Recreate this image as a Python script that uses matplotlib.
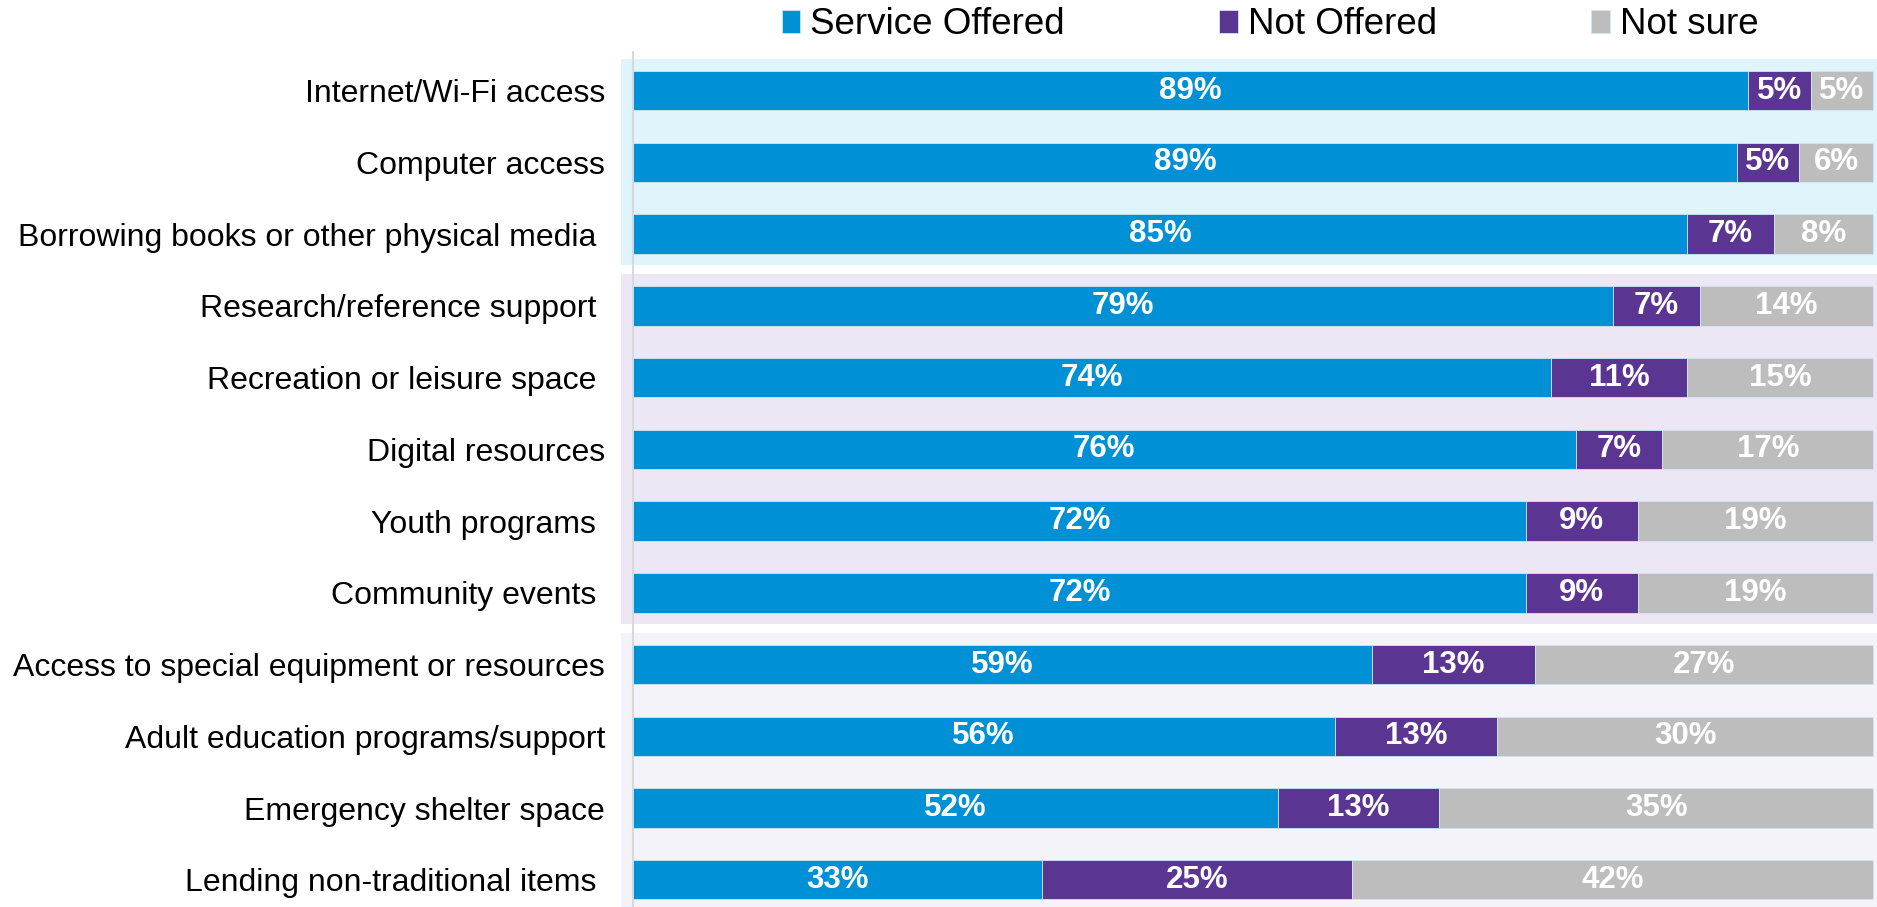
import numpy as np
import matplotlib.pyplot as plt

plt.rcParams['font.family'] = ['Liberation Sans', 'DejaVu Sans']

categories = [
    "Internet/Wi-Fi access",
    "Computer access",
    "Borrowing books or other physical media ",
    "Research/reference support ",
    "Recreation or leisure space ",
    "Digital resources",
    "Youth programs ",
    "Community events ",
    "Access to special equipment or resources",
    "Adult education programs/support",
    "Emergency shelter space",
    "Lending non-traditional items ",
]
offered = [89, 89, 85, 79, 74, 76, 72, 72, 59, 56, 52, 33]
not_offered = [5, 5, 7, 7, 11, 7, 9, 9, 13, 13, 13, 25]
not_sure = [5, 6, 8, 14, 15, 17, 19, 19, 27, 30, 35, 42]
series_names = ["Service Offered", "Not Offered", "Not sure"]

colors = ['#0090d5', '#5a3592', '#bdbdbd']
# background groups: (first row, last row, colour)
groups = [(0, 2, '#e0f4fc'), (3, 7, '#ede6f5'), (8, 11, '#f5f3fa')]

W, H = 1877, 907
fig = plt.figure(figsize=(W / 100, H / 100), dpi=100)
ax_left, ax_right, ax_top = 633, 1877, 52
ax = fig.add_axes([ax_left / W, 0, (ax_right - ax_left) / W, 1 - ax_top / H])

data = np.array([offered, not_offered, not_sure], dtype=float)
# bars are drawn as shares of the row total (rounded labels sum to 99 in places)
shares = data / data.sum(axis=0) * 100

y = np.arange(len(categories))
left = np.zeros(len(categories))
for k in range(3):
    bars = ax.barh(y, shares[k], left=left, height=0.55, color=colors[k],
                   edgecolor='#cfe6f3', linewidth=0.6, label=series_names[k], zorder=2)
    ax.bar_label(bars, labels=[f"{v}%" for v in data[k].astype(int)],
                 label_type='center', color='white', fontsize=22.5,
                 fontweight='bold')
    left += shares[k]

ax.set_xlim(0, 100.3)
ax.set_ylim(11.38, -0.54)

x_off = -12 / (ax_right - ax_left)
for r0, r1, c in groups:
    ax.axhspan(r0 - 0.44, r1 + 0.43, xmin=x_off, xmax=1, color=c,
               clip_on=False, zorder=0, linewidth=0)

ax.set_yticks(y)
ax.set_yticklabels(categories, fontsize=23)
ax.tick_params(axis='y', length=0, pad=20)
ax.set_xticks([])
for s in ['top', 'right', 'bottom']:
    ax.spines[s].set_visible(False)
ax.spines['left'].set_color('#d9d9d9')
ax.spines['left'].set_linewidth(1.5)
ax.spines['left'].set_zorder(1)
ax.set_facecolor('none')

fig.legend(loc='center', bbox_to_anchor=(1270 / W, 1 - 25 / H), ncol=3,
           frameon=False, fontsize=26.5, handlelength=0.5, handleheight=0.55,
           handletextpad=0.27, columnspacing=4.2, borderpad=0, borderaxespad=0)

fig.savefig('out.png', dpi=100)
